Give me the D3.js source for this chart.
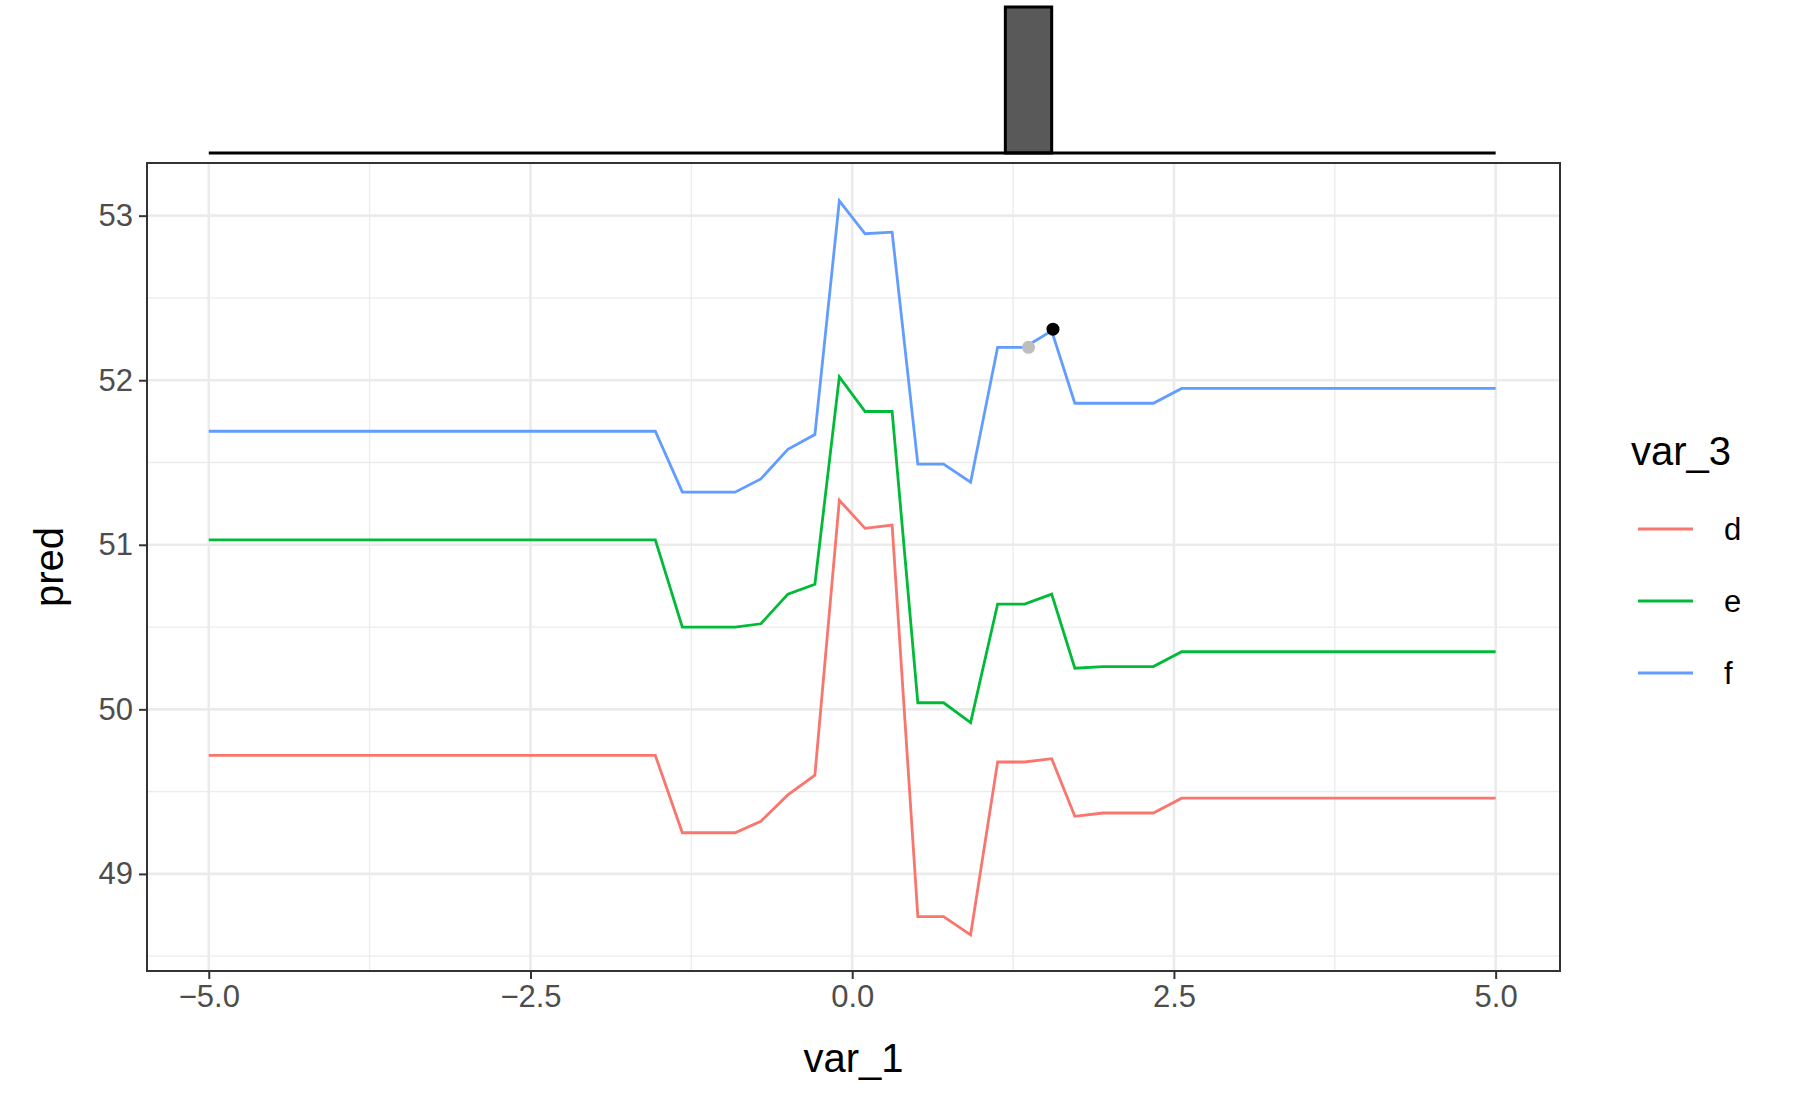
<!DOCTYPE html>
<html>
<head>
<meta charset="utf-8">
<script src="https://cdn.jsdelivr.net/npm/d3@7"></script>
<style>body{margin:0;background:#fff}</style>
</head>
<body>
<script>
// data
var xs = [-5, -1.53, -1.32, -0.91, -0.71, -0.50, -0.29, -0.10, 0.10, 0.31, 0.51, 0.71, 0.92, 1.13, 1.34, 1.55, 1.73, 1.95, 2.34, 2.56, 5]
var predD = [49.72, 49.72, 49.25, 49.25, 49.32, 49.48, 49.60, 51.27, 51.10, 51.12, 48.74, 48.74, 48.63, 49.68, 49.68, 49.70, 49.35, 49.37, 49.37, 49.46, 49.46]
var predE = [51.03, 51.03, 50.50, 50.50, 50.52, 50.70, 50.76, 52.02, 51.81, 51.81, 50.04, 50.04, 49.92, 50.64, 50.64, 50.70, 50.25, 50.26, 50.26, 50.35, 50.35]
var predF = [51.69, 51.69, 51.32, 51.32, 51.40, 51.58, 51.67, 53.09, 52.89, 52.90, 51.49, 51.49, 51.38, 52.20, 52.20, 52.30, 51.86, 51.86, 51.86, 51.95, 51.95]
var series = [{name:'d', color:'#F8766D', vals:predD}, {name:'e', color:'#00BA38', vals:predE}, {name:'f', color:'#619CFF', vals:predF}]
var points = [[1.37, 52.20, '#bebebe'], [1.56, 52.31, '#000000']]
var hist = [[1.19, 1.55]]
var xTicks = [-5, -2.5, 0, 2.5, 5]
var yTicks = [49, 50, 51, 52, 53]

var L = 147, R = 1560, T = 163, B = 971
var FONT = 'Liberation Sans, Arial'
var svg = d3.select('body').append('svg').attr('width', 1800).attr('height', 1113)
var x = d3.scaleLinear().domain([-5.48, 5.50]).range([L, R])
var y = d3.scaleLinear().domain([48.41, 53.32]).range([B, T])

// grid
var g = svg.append('g')
;[-3.75, -1.25, 1.25, 3.75].forEach(function(v){
	g.append('line').attr('x1', x(v)).attr('x2', x(v)).attr('y1', T).attr('y2', B).attr('stroke', '#ebebeb').attr('stroke-width', 1.3)
})
;[48.5, 49.5, 50.5, 51.5, 52.5].forEach(function(v){
	g.append('line').attr('x1', L).attr('x2', R).attr('y1', y(v)).attr('y2', y(v)).attr('stroke', '#ebebeb').attr('stroke-width', 1.3)
})
xTicks.forEach(function(v){
	g.append('line').attr('x1', x(v)).attr('x2', x(v)).attr('y1', T).attr('y2', B).attr('stroke', '#ebebeb').attr('stroke-width', 2.6)
})
yTicks.forEach(function(v){
	g.append('line').attr('x1', L).attr('x2', R).attr('y1', y(v)).attr('y2', y(v)).attr('stroke', '#ebebeb').attr('stroke-width', 2.6)
})

// lines
var line = d3.line().x(function(d, i){return x(xs[i])}).y(function(d){return y(d)})
series.forEach(function(s){
	svg.append('path').attr('d', line(s.vals)).attr('fill', 'none').attr('stroke', s.color).attr('stroke-width', 2.8)
})
points.forEach(function(p){
	svg.append('circle').attr('cx', x(p[0])).attr('cy', y(p[1])).attr('r', 6.5).attr('fill', p[2])
})

svg.append('rect').attr('x', L).attr('y', T).attr('width', R-L).attr('height', B-T).attr('fill', 'none').attr('stroke', '#333').attr('stroke-width', 2)

// axes
var xAxis = svg.append('g').attr('transform', 'translate(0,' + B + ')')
	.call(d3.axisBottom(x).tickValues(xTicks).tickFormat(d3.format('.1f')).tickSize(8).tickPadding(6))
var yAxis = svg.append('g').attr('transform', 'translate(' + L + ',0)')
	.call(d3.axisLeft(y).tickValues(yTicks).tickFormat(d3.format('d')).tickSize(8).tickPadding(6))
;[xAxis, yAxis].forEach(function(a){
	a.select('.domain').remove()
	a.selectAll('line').attr('stroke', '#333').attr('stroke-width', 2)
	a.selectAll('text').attr('fill', '#4d4d4d').attr('font-size', 31).attr('font-family', FONT)
})
svg.append('text').attr('x', (L+R)/2).attr('y', 1072).attr('text-anchor', 'middle').attr('font-size', 40).attr('font-family', FONT).text('var_1')
svg.append('text').attr('transform', 'translate(63,' + (T+B)/2 + ') rotate(-90)').attr('text-anchor', 'middle').attr('font-size', 40).attr('font-family', FONT).text('pred')

// top marginal histogram
hist.forEach(function(h){
	svg.append('rect').attr('x', x(h[0])).attr('y', 7).attr('width', x(h[1]) - x(h[0])).attr('height', 146).attr('fill', '#595959').attr('stroke', '#000').attr('stroke-width', 3)
})
svg.append('line').attr('x1', x(-5)).attr('x2', x(5)).attr('y1', 153).attr('y2', 153).attr('stroke', '#000').attr('stroke-width', 3)

// legend
svg.append('text').attr('x', 1631).attr('y', 465).attr('font-size', 40).attr('font-family', FONT).text('var_3')
series.forEach(function(s, i){
	var ly = 529 + i * 72
	svg.append('line').attr('x1', 1638).attr('x2', 1693).attr('y1', ly).attr('y2', ly).attr('stroke', s.color).attr('stroke-width', 3)
	svg.append('text').attr('x', 1724).attr('y', ly + 11).attr('font-size', 31).attr('font-family', FONT).text(s.name)
})
</script>
</body>
</html>
